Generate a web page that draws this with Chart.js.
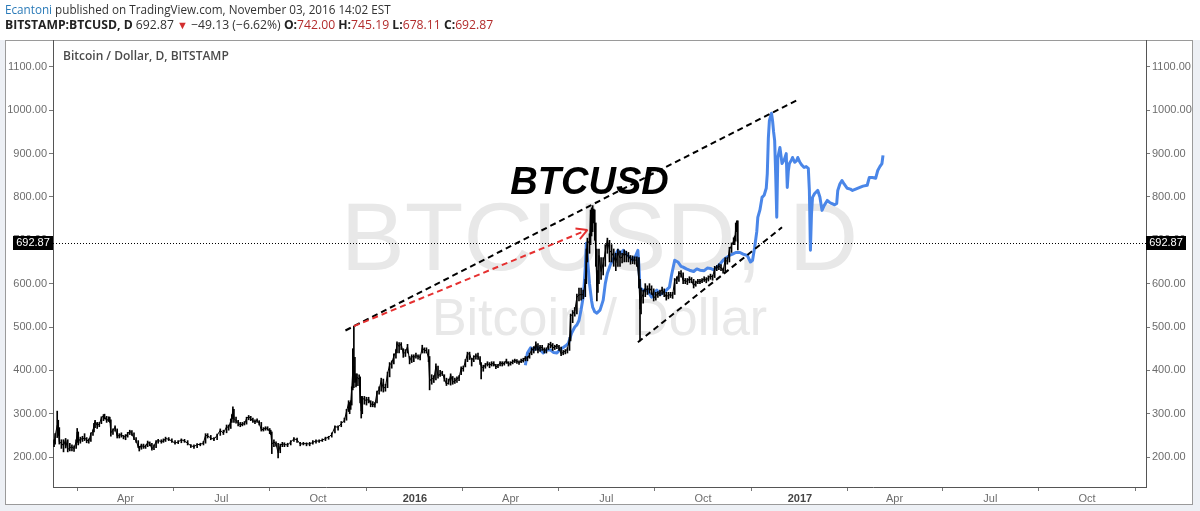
<!DOCTYPE html>
<html lang="en">
<head>
<meta charset="UTF-8" />
<title>BTCUSD</title>
<script src="https://cdn.jsdelivr.net/npm/chart.js"></script>
<style>
  html, body { margin: 0; padding: 0; background: #fff; }
  #wrap { position: relative; width: 1200px; height: 511px; overflow: hidden; }
  #chart { position: absolute; left: 0; top: 0; }
  #hdr {
    position: absolute; left: 5px; top: 1px; z-index: 2;
    font-family: "Open Sans", sans-serif; font-size: 12.2px; color: #333;
    line-height: 16px; white-space: nowrap;
  }
  #hdr .l1 { font-size: 11.7px; }
  #hdr .user { color: #2a7ab8; }
  #hdr b { color: #222; }
  #hdr .r { color: #b22b2b; }
  #hdr .dn { color: #d32f2f; font-size: 11px; }
</style>
</head>
<body>
<div id="wrap">
  <div id="hdr">
    <div class="l1"><span class="user">Ecantoni</span> published on TradingView.com, November 03, 2016 14:02 EST</div>
    <div id="quote"></div>
  </div>
  <canvas id="chart" width="1200" height="511"></canvas>
</div>
<script>
// x values are days counted from 1 Jan 2015
var dayTicks = [90, 181, 273, 365, 456, 547, 639, 731, 821, 912, 1004];
var dayTickLabels = ["Apr", "Jul", "Oct", "2016", "Apr", "Jul", "Oct", "2017", "Apr", "Jul", "Oct"];
var priceTicks = [200, 300, 400, 500, 600, 700, 800, 900, 1000, 1100];

// daily candles (BITSTAMP:BTCUSD)
var blackDay = [22,23,25,26,27,29,31,33,35,37,
  39,41,43,44,45,47,49,51,53,55,
  57,59,60,61,63,65,67,69,70,72,
  74,75,76,78,80,82,84,86,88,90,
  92,94,96,98,100,102,103,105,107,109,
  111,113,115,117,119,121,124,126,128,131,
  134,137,140,143,146,149,152,155,158,161,
  164,166,168,171,174,177,180,183,186,188,
  190,191,192,193,195,197,199,201,203,205,
  207,209,211,213,215,217,219,221,223,225,
  227,228,229,231,233,235,237,239,241,244,
  247,250,253,256,259,262,265,268,271,274,
  277,280,283,286,289,292,295,298,300,302,
  303,304,305,306,307,308,309,310,312,313,
  314,315,317,319,321,323,325,327,329,331,
  333,335,337,339,341,343,345,347,348,350,
  352,354,356,358,360,362,364,366,368,370,
  372,374,376,378,379,381,383,385,387,389,
  391,393,395,397,399,401,403,405,407,409,
  411,413,415,417,419,421,423,425,427,428,
  430,432,434,436,438,440,442,444,446,448,
  450,452,454,456,458,460,462,464,466,468,
  470,472,474,476,478,480,482,484,486,488,
  490,492,494,496,498,500,502,504,506,508,
  510,512,513,515,517,519,521,523,525,527,
  528,529,531,532,533,534,535,536,537,538,
  539,540,542,544,546,548,550,552,554,556,
  558,560,562,564,566,568,570,572,574,576,
  578,579,580,582,584,586,588,590,592,594,
  596,598,600,602,604,606,608,610,612,614,
  616,618,620,622,624,626,628,630,632,634,
  636,638,640,642,644,646,648,650,652,654,
  656,658,660,662,664,666,668,669,670,671,
  672];
var blackLow = [224,230,245,250,230,220,212,221,212,214,
  214,213,220,234,228,232,236,238,233,232,
  236,250,258,268,266,270,277,284,288,280,
  282,280,248,252,260,244,244,246,242,240,
  246,252,250,240,234,222,214,218,220,220,
  224,226,216,217,222,232,232,234,236,238,
  234,230,231,233,234,228,222,220,222,226,
  228,232,244,240,238,240,250,252,256,262,
  266,280,288,280,278,272,270,272,274,276,
  286,284,280,277,280,274,260,260,262,262,
  254,252,208,224,225,198,210,224,224,224,
  228,236,234,226,228,226,226,230,232,234,
  236,238,241,246,256,262,270,280,285,305,
  300,310,320,355,360,372,362,365,365,325,
  290,300,322,320,325,316,316,315,325,345,
  352,350,352,360,385,405,415,428,440,440,
  448,430,432,440,415,418,420,428,426,424,
  440,440,440,420,355,368,372,378,382,386,
  388,375,365,368,366,368,370,372,376,390,
  398,408,420,425,410,420,426,425,414,380,
  398,405,410,406,410,410,404,406,410,410,
  412,416,410,412,415,418,416,414,418,419,
  422,422,428,436,440,446,440,444,446,440,
  440,448,452,446,448,450,446,434,436,438,
  440,446,468,510,525,530,560,562,565,570,
  600,650,670,690,710,720,740,700,640,560,
  580,600,610,620,640,670,650,650,640,630,
  640,640,648,650,650,650,645,646,645,640,
  590,468,530,555,570,575,578,575,560,562,
  568,572,575,570,562,565,568,566,575,600,
  605,615,600,600,598,602,602,590,594,600,
  600,602,605,602,606,610,608,614,630,632,
  630,624,628,645,650,672,690,690,698,720,
  678];
var blackHigh = [240,254,306,285,268,240,240,243,240,232,
  228,226,240,266,258,246,248,254,245,242,
  256,263,278,285,280,280,293,298,299,294,
  293,292,286,265,272,265,254,256,250,252,
  257,262,261,256,245,238,225,230,230,228,
  237,235,232,228,238,241,240,242,246,245,
  242,238,238,242,241,238,229,228,231,232,
  236,254,254,250,245,253,265,262,274,274,
  288,298,316,310,292,285,280,280,282,292,
  296,294,290,286,288,284,280,268,270,270,
  266,262,258,240,235,232,230,234,233,232,
  238,245,244,234,234,233,234,238,240,240,
  242,246,248,256,272,272,282,290,310,330,
  326,330,362,450,502,430,392,392,390,385,
  340,340,340,338,338,330,328,326,352,362,
  382,380,368,396,418,422,438,448,466,464,
  464,450,448,460,432,436,436,440,436,436,
  458,452,452,448,432,390,388,415,410,400,
  398,390,382,380,392,386,382,385,388,408,
  410,425,442,442,428,434,438,440,432,418,
  412,416,420,418,420,420,414,414,420,420,
  420,426,420,420,424,426,425,422,426,428,
  432,432,440,452,455,466,462,458,458,452,
  452,462,465,462,458,460,458,454,446,448,
  452,476,530,538,545,576,590,590,585,610,
  680,705,715,770,775,780,772,770,740,680,
  630,680,660,660,690,705,700,690,680,670,
  680,675,670,678,675,672,665,664,662,662,
  660,610,590,585,600,595,600,595,588,580,
  582,585,592,588,580,580,580,580,612,616,
  628,630,625,612,612,616,614,610,606,610,
  610,612,616,614,618,622,620,640,642,646,
  644,636,660,660,684,694,706,710,740,745,
  745];
var blackClose = [233,248,273,263,235,232,226,240,217,222,
  223,220,236,258,234,243,241,245,239,237,
  254,260,276,282,273,276,290,296,294,283,
  290,285,256,262,269,248,250,252,247,247,
  254,260,254,243,237,224,219,228,223,225,
  234,231,219,225,236,238,236,237,243,241,
  237,232,235,240,237,232,226,224,229,229,
  233,250,249,244,241,250,262,255,270,268,
  284,292,310,289,284,279,274,276,277,289,
  294,288,284,281,285,278,263,264,267,266,
  258,257,230,235,230,210,226,231,229,228,
  235,242,240,230,231,231,230,234,237,237,
  239,243,246,252,270,269,277,285,305,325,
  313,325,360,400,410,385,373,384,380,335,
  306,336,333,330,334,322,322,320,350,356,
  377,358,362,392,413,417,433,443,462,455,
  461,438,442,455,422,432,430,434,432,430,
  452,446,446,428,375,382,379,410,388,391,
  395,380,368,372,389,373,375,381,383,405,
  404,421,438,438,423,431,433,433,420,409,
  406,413,416,412,415,416,408,411,418,415,
  416,423,413,417,420,423,421,418,422,423,
  430,427,437,448,448,461,446,454,452,445,
  448,459,461,452,454,457,453,438,442,444,
  449,473,525,530,537,569,574,575,574,605,
  665,700,692,765,748,757,765,730,668,594,
  623,665,628,647,674,701,677,671,663,648,
  672,659,661,671,665,664,657,655,654,655,
  606,541,565,576,590,585,590,583,566,573,
  576,580,586,578,569,574,574,573,609,608,
  624,623,607,607,605,612,608,595,602,606,
  604,608,611,608,613,618,615,636,637,640,
  637,630,655,651,678,688,699,699,730,738,
  692.87];

// projected path (blue)
var blueDay = [470,472,475,478,482,485,487,490,494,497,
  500,503,506,509,511,514,517,519,521,523,
  525,526,527,528,529,531,533,534,536,538,
  541,544,546,548,551,553,556,558,561,563,
  566,569,572,575,577,578,579,582,586,590,
  593,595,598,601,604,607,609,612,615,618,
  620,623,626,630,633,636,640,643,646,649,
  652,655,658,661,664,667,670,674,677,681,
  684,686,688,690,691,693,695,697,699,700,
  701,702,704,705,706,707,708,709,710,712,
  714,716,718,719,720,721,723,724,726,728,
  729,731,733,735,737,739,740,741,742,743,
  745,748,750,752,754,757,759,761,764,766,
  767,769,771,773,776,779,781,784,788,791,
  795,797,800,803,805,807,809,810];
var blueValue = [412,440,452,447,453,445,440,447,447,441,
  440,448,453,458,463,486,500,505,515,540,
  569,600,638,693,660,600,560,546,535,532,
  539,562,600,624,645,654,668,677,670,677,
  668,661,654,665,677,640,590,585,585,569,
  580,585,575,578,585,592,620,654,650,640,
  638,634,631,628,634,631,630,636,635,632,
  638,645,654,660,665,668,672,672,668,665,
  650,654,684,720,753,770,799,804,820,854,
  935,976,993,976,950,930,850,753,891,914,
  877,885,900,822,860,877,885,891,880,884,
  891,880,873,868,870,866,815,677,760,799,
  808,815,800,769,780,792,788,785,782,785,
  815,830,838,830,820,818,815,818,822,825,
  827,845,845,843,861,870,877,896];

// drawn trend lines
var upperLineDays = [299, 728];
var upperLineValues = [492, 1023];
var lowerLineDays = [577, 714];
var lowerLineValues = [465, 730];
var arrowDays = [307, 529];
var arrowValues = [502, 724];

var quoteOpen = 742.0, quoteHigh = 745.19, quoteLow = 678.11;
var quoteChange = -49.13, quoteChangePct = -6.62;
var lastClose = blackClose[blackClose.length - 1];

var FONT = "'Liberation Sans', Arial, sans-serif";

document.getElementById("quote").innerHTML =
  "<b>BITSTAMP:BTCUSD, D</b> " + lastClose.toFixed(2) +
  " <span class='dn'>&#9660;</span> " +
  "\u2212" + Math.abs(quoteChange).toFixed(2) + " (\u2212" + Math.abs(quoteChangePct).toFixed(2) + "%) " +
  "<b>O:</b><span class='r'>" + quoteOpen.toFixed(2) + "</span> " +
  "<b>H:</b><span class='r'>" + quoteHigh.toFixed(2) + "</span> " +
  "<b>L:</b><span class='r'>" + quoteLow.toFixed(2) + "</span> " +
  "<b>C:</b><span class='r'>" + lastClose.toFixed(2) + "</span>";

function pts(xs, ys) {
  return xs.map(function (x, i) { return { x: x, y: ys[i] }; });
}

var decor = {
  id: "decor",
  beforeDraw: function (chart) {
    var c = chart.ctx;
    c.save();
    c.fillStyle = "#ffffff";
    c.fillRect(0, 0, chart.width, chart.height);
    c.fillStyle = "#edf0f5";
    c.fillRect(0, 40, chart.width, chart.height - 40);
    c.fillStyle = "#ffffff";
    c.fillRect(5, 40, 1188, 465);
    c.strokeStyle = "#9a9a9a";
    c.lineWidth = 1;
    c.strokeRect(5.5, 40.5, 1187, 464);
    c.restore();
  },
  beforeDatasetsDraw: function (chart) {
    var c = chart.ctx, a = chart.chartArea;
    var cx = (a.left + a.right) / 2;
    c.save();
    c.fillStyle = "#e8e8e8";
    c.textAlign = "center";
    c.textBaseline = "alphabetic";
    c.font = "96px " + FONT;
    c.fillText("BTCUSD, D", cx, a.top + 230);
    c.font = "52px " + FONT;
    c.fillText("Bitcoin / Dollar", cx, a.top + 295);

    c.textAlign = "left";
    c.textBaseline = "middle";
    c.fillStyle = "#4a4a4a";
    c.font = "600 12px 'Open Sans', sans-serif";
    c.fillText("Bitcoin / Dollar, D, BITSTAMP", a.left + 10, a.top + 17);

    // last price dotted line
    var py = Math.round(chart.scales.y.getPixelForValue(lastClose)) + 0.5;
    c.strokeStyle = "#000";
    c.lineWidth = 1;
    c.setLineDash([1, 2]);
    c.beginPath();
    c.moveTo(a.left, py);
    c.lineTo(a.right, py);
    c.stroke();
    c.restore();
  },
  afterDatasetsDraw: function (chart) {
    var c = chart.ctx, xs = chart.scales.x, ys = chart.scales.y;
    // arrow head on the red line
    var x0 = xs.getPixelForValue(arrowDays[0]), y0 = ys.getPixelForValue(arrowValues[0]);
    var x1 = xs.getPixelForValue(arrowDays[1]), y1 = ys.getPixelForValue(arrowValues[1]);
    var ang = Math.atan2(y1 - y0, x1 - x0);
    c.save();
    c.strokeStyle = "#e53030";
    c.lineWidth = 2;
    [-0.5, 0.5].forEach(function (d) {
      c.beginPath();
      c.moveTo(x1, y1);
      c.lineTo(x1 - 12 * Math.cos(ang + d), y1 - 12 * Math.sin(ang + d));
      c.stroke();
    });
    // annotation text
    c.fillStyle = "#000";
    c.textAlign = "center";
    c.textBaseline = "middle";
    c.font = "italic bold 38px " + FONT;
    c.fillText("BTCUSD", xs.getPixelForValue(531), ys.getPixelForValue(830));
    c.restore();
  },
  afterDraw: function (chart) {
    var c = chart.ctx, a = chart.chartArea;
    var py = Math.round(chart.scales.y.getPixelForValue(lastClose));
    var txt = lastClose.toFixed(2);
    c.save();
    c.fillStyle = "#000";
    c.fillRect(13, py - 7, a.left - 13, 14);
    c.fillRect(a.right, py - 7, 40, 14);
    c.fillStyle = "#fff";
    c.font = "11px " + FONT;
    c.textBaseline = "middle";
    c.textAlign = "center";
    c.fillText(txt, (13 + a.left) / 2, py);
    c.fillText(txt, a.right + 20, py);
    c.restore();
  },
};

function yAxis(pos, w) {
  return {
    type: "linear",
    position: pos,
    min: 131,
    max: 1162,
    afterBuildTicks: function (s) {
      s.ticks = priceTicks.map(function (v) { return { value: v }; });
    },
    afterFit: function (s) { s.width = w; },
    grid: { drawOnChartArea: false, drawTicks: true, tickLength: 4, color: "#777" },
    border: { display: true, color: "#555" },
    ticks: {
      padding: 2,
      color: "#6d6d6d",
      font: { family: FONT, size: 11 },
      callback: function (v) { return Number(v).toFixed(2); },
    },
  };
}

var ctx = document.getElementById("chart").getContext("2d");
var chart = new Chart(ctx, {
  type: "line",
  data: {
    datasets: [
      {
        label: "Projection",
        data: pts(blueDay, blueValue),
        borderColor: "#4a86e8",
        borderWidth: 3,
        borderJoinStyle: "round",
        pointRadius: 0,
        tension: 0,
        order: 4,
      },
      {
        type: "bar",
        label: "Range",
        data: blackDay.map(function (d, i) { return { x: d, y: [blackLow[i], blackHigh[i]] }; }),
        backgroundColor: "#000",
        barThickness: 1,
        grouped: false,
        order: 3,
      },
      {
        label: "Close",
        data: pts(blackDay, blackClose),
        borderColor: "#000",
        borderWidth: 1,
        pointRadius: 0,
        tension: 0,
        order: 2,
      },
      {
        label: "Upper",
        data: pts(upperLineDays, upperLineValues),
        borderColor: "#000",
        borderWidth: 2,
        borderDash: [6, 4],
        pointRadius: 0,
        order: 1,
      },
      {
        label: "Lower",
        data: pts(lowerLineDays, lowerLineValues),
        borderColor: "#000",
        borderWidth: 2,
        borderDash: [6, 4],
        pointRadius: 0,
        order: 1,
      },
      {
        label: "Arrow",
        data: pts(arrowDays, arrowValues),
        borderColor: "#e53030",
        borderWidth: 2,
        borderDash: [6, 4],
        pointRadius: 0,
        order: 0,
      },
    ],
  },
  options: {
    responsive: false,
    animation: false,
    events: [],
    layout: { padding: { top: 40, left: 5, right: 7, bottom: 6 } },
    plugins: { legend: { display: false }, tooltip: { enabled: false } },
    scales: {
      x: {
        type: "linear",
        min: 21,
        max: 1060,
        offset: false,
        afterBuildTicks: function (s) {
          s.ticks = dayTicks.map(function (v) { return { value: v }; });
        },
        afterFit: function (s) { s.height = 18; },
        grid: { drawOnChartArea: false, drawTicks: true, tickLength: 4, color: "#777" },
        border: { display: true, color: "#555" },
        ticks: {
          autoSkip: false,
          maxRotation: 0,
          padding: 1,
          color: function (c) { return /^\d{4}$/.test(dayTickLabels[c.index]) ? "#444" : "#6d6d6d"; },
          font: function (c) {
            return { family: FONT, size: 11, weight: /^\d{4}$/.test(dayTickLabels[c.index]) ? "bold" : "normal" };
          },
          callback: function (v, i) { return dayTickLabels[i]; },
        },
      },
      y: yAxis("left", 48),
      y2: yAxis("right", 47),
    },
  },
  plugins: [decor],
});
</script>
</body>
</html>
